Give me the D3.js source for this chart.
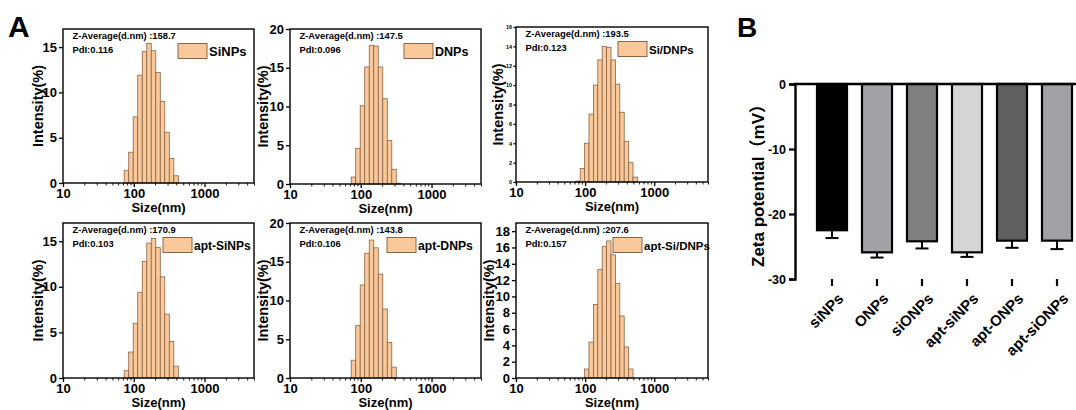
<!DOCTYPE html>
<html><head><meta charset="utf-8">
<script src="https://cdn.jsdelivr.net/npm/d3@7"></script>
<style>
body{margin:0;background:#fff;}
svg{display:block;font-family:"Liberation Sans",Arial,sans-serif;}
</style></head><body>
<svg id="c" width="1076" height="410"></svg>
<script>
// ---------- DATA ----------
// DLS size classes (nm)
const sizeBins = [78.82, 91.28, 105.7, 122.4, 141.8, 164.2, 190.1, 220.2, 255.0, 295.3, 342.0, 396.1, 458.7, 531.2];
const sampleNames = ["SiNPs", "DNPs", "Si/DNPs", "apt-SiNPs", "apt-DNPs", "apt-Si/DNPs"];
const zAverage = ["158.7", "147.5", "193.5", "170.9", "143.8", "207.6"];
const pdiValues = ["0.116", "0.096", "0.123", "0.103", "0.106", "0.157"];
const intensitySiNPs     = [1.4, 3.4, 7.3, 11.9, 14.5, 15.4, 14.6, 12.2, 9.0, 5.6, 2.7, 0.8, 0, 0];
const intensityDNPs      = [0.9, 4.6, 10.1, 15.1, 17.9, 17.8, 15.1, 11.0, 5.6, 1.9, 0.1, 0, 0, 0];
const intensitySiDNPs    = [0.1, 1.4, 4.0, 7.0, 10.0, 12.6, 14.0, 13.9, 12.6, 10.1, 7.2, 4.2, 2.0, 0.5];
const intensityAptSiNPs  = [0.8, 2.85, 6.0, 9.4, 12.8, 14.8, 15.3, 14.3, 11.1, 7.0, 4.0, 1.3, 0, 0];
const intensityAptDNPs   = [2.3, 6.8, 12.0, 16.1, 17.8, 16.8, 13.4, 8.9, 4.6, 1.4, 0, 0, 0, 0];
const intensityAptSiDNPs = [0, 0, 1.1, 4.4, 9.0, 13.3, 16.1, 16.8, 15.1, 11.6, 7.6, 3.8, 1.1, 0];
const intensitySeries = [intensitySiNPs, intensityDNPs, intensitySiDNPs, intensityAptSiNPs, intensityAptDNPs, intensityAptSiDNPs];
const xTickValues = [10, 100, 1000];
const yMaxValues = [17, 20, 16, 17, 20, 19];
const yTickValues = [[0, 5, 10, 15], [0, 5, 10, 15, 20], [0, 2, 4, 6, 8, 10, 12, 14, 16],
                     [0, 5, 10, 15], [0, 5, 10, 15, 20], [0, 2, 4, 6, 8, 10, 12, 14, 16, 18]];
const xMaxValues = [5000, 5000, 6000, 5000, 5000, 6000];

const zetaGroups = ["siNPs", "ONPs", "siONPs", "apt-siNPs", "apt-ONPs", "apt-siONPs"];
const zetaMean = [-22.5, -25.9, -24.2, -25.9, -24.1, -24.1];
const zetaSD = [1.2, 0.8, 1.1, 0.7, 1.1, 1.3];
const zetaTicks = [0, -10, -20, -30];

// ---------- LAYOUT / STYLE ----------
const layout = [
  {x0: 63,  x1: 254, y0: 29,  y1: 183, tickFont: 13, legDx: 76, legFont: 13,   ylabX: 37.5},
  {x0: 290, x1: 481, y0: 29,  y1: 184, tickFont: 13, legDx: 77, legFont: 12.5, ylabX: 262.5},
  {x0: 516, x1: 708, y0: 27,  y1: 182, tickFont: 5.5, legDx: 90, legFont: 11.5, ylabX: 497.5},
  {x0: 63,  x1: 254, y0: 223, y1: 378, tickFont: 13, legDx: 91, legFont: 12,   ylabX: 37.5},
  {x0: 290, x1: 481, y0: 223, y1: 378, tickFont: 13, legDx: 94, legFont: 12.2, ylabX: 262.5},
  {x0: 516, x1: 708, y0: 223, y1: 378, tickFont: 13, legDx: 95, legFont: 11.5, ylabX: 489}
];
const barFill = "#f9c99c", barStroke = "#8a6444";
const zetaColors = ["#000000", "#a1a1a5", "#808080", "#d5d5d5", "#606060", "#a1a1a5"];

const svg = d3.select("#c");

svg.append("text").attr("x", 8).attr("y", 37).attr("font-size", 30).attr("font-weight", "bold").text("A");
svg.append("text").attr("x", 737).attr("y", 37).attr("font-size", 28).attr("font-weight", "bold").text("B");

const ratio = Math.sqrt(sizeBins[1] / sizeBins[0]);

layout.forEach((L, i) => {
  const g = svg.append("g");
  const x = d3.scaleLog().domain([10, xMaxValues[i]]).range([L.x0, L.x1]);
  const y = d3.scaleLinear().domain([0, yMaxValues[i]]).range([L.y1, L.y0]);
  const data = sizeBins.map((s, k) => ({s, v: intensitySeries[i][k]})).filter(d => d.v > 0);

  g.selectAll("rect.bar").data(data).join("rect").attr("class", "bar")
    .attr("x", d => x(d.s / ratio))
    .attr("width", d => x(d.s * ratio) - x(d.s / ratio))
    .attr("y", d => y(d.v))
    .attr("height", d => y(0) - y(d.v))
    .attr("fill", barFill).attr("stroke", barStroke).attr("stroke-width", 0.8);

  // minor x ticks
  const minor = [];
  for (let dec = 10; dec < xMaxValues[i]; dec *= 10)
    for (let m = 2; m <= 9; m++) if (dec * m <= xMaxValues[i]) minor.push(dec * m);
  g.append("g").attr("transform", `translate(0,${L.y1})`)
    .call(d3.axisBottom(x).tickValues(minor).tickSize(2.5).tickFormat(""))
    .call(a => a.select(".domain").remove())
    .selectAll("line").attr("stroke-width", 0.9);

  const xa = g.append("g").attr("transform", `translate(0,${L.y1})`)
    .call(d3.axisBottom(x).tickValues(xTickValues).tickSize(4).tickPadding(2).tickFormat(d3.format("d")));
  xa.select(".domain").remove();
  xa.selectAll("line").attr("stroke-width", 1.3);
  xa.selectAll("text").attr("font-size", 13).attr("font-weight", "bold").attr("fill", "#000")
    .attr("font-family", "Liberation Sans, Arial, sans-serif");

  const ya = g.append("g").attr("transform", `translate(${L.x0},0)`)
    .call(d3.axisLeft(y).tickValues(yTickValues[i]).tickSize(i === 2 ? 2.5 : 4).tickPadding(i === 2 ? 1.5 : 2));
  ya.select(".domain").remove();
  ya.selectAll("line").attr("stroke-width", 1.3);
  ya.selectAll("text").attr("font-size", L.tickFont).attr("font-weight", "bold").attr("fill", "#000")
    .attr("font-family", "Liberation Sans, Arial, sans-serif");

  g.append("rect").attr("x", L.x0).attr("y", L.y0).attr("width", L.x1 - L.x0).attr("height", L.y1 - L.y0)
    .attr("fill", "none").attr("stroke", "#000").attr("stroke-width", 1.4);

  // annotations
  g.append("text").attr("x", L.x0 + 9.5).attr("y", L.y0 + 10).attr("font-size", 9.4).attr("font-weight", "bold")
    .text(`Z-Average(d.nm) :${zAverage[i]}`);
  g.append("text").attr("x", L.x0 + 9.5).attr("y", L.y0 + 23.5).attr("font-size", 9.4).attr("font-weight", "bold")
    .text(`PdI:${pdiValues[i]}`);

  // legend
  const lx = L.x1 - L.legDx, ly = L.y0 + 14.5;
  g.append("rect").attr("x", lx).attr("y", ly).attr("width", 29).attr("height", 15)
    .attr("fill", barFill).attr("stroke", barStroke).attr("stroke-width", 1);
  g.append("text").attr("x", lx + 31).attr("y", ly + 12).attr("font-size", L.legFont).attr("font-weight", "bold")
    .text(sampleNames[i]);

  // axis titles
  g.append("text").attr("x", (L.x0 + L.x1) / 2).attr("y", L.y1 + 29).attr("text-anchor", "middle")
    .attr("font-size", 13).attr("font-weight", "bold").text("Size(nm)");
  g.append("text").attr("transform", `translate(${L.ylabX + 5},${(L.y0 + L.y1) / 2}) rotate(-90)`)
    .attr("text-anchor", "middle").attr("font-size", 14.5).attr("font-weight", "bold").text("Intensity(%)");
});

// ---------- Panel B ----------
const gb = svg.append("g");
const yB = d3.scaleLinear().domain([-30, 0]).range([279, 84]);
const xB = d3.scaleBand().domain(zetaGroups).range([802, 1087]).paddingInner(1 / 3).paddingOuter(1 / 3);
const zdata = zetaGroups.map((g, k) => ({g, m: zetaMean[k], sd: zetaSD[k], c: zetaColors[k]}));

// error bars (behind bars)
zdata.forEach(d => {
  const cx = xB(d.g) + xB.bandwidth() / 2;
  gb.append("line").attr("x1", cx).attr("x2", cx).attr("y1", yB(d.m)).attr("y2", yB(d.m - d.sd))
    .attr("stroke", "#000").attr("stroke-width", 2);
  gb.append("line").attr("x1", cx - 6.5).attr("x2", cx + 6.5).attr("y1", yB(d.m - d.sd)).attr("y2", yB(d.m - d.sd))
    .attr("stroke", "#000").attr("stroke-width", 2);
});
gb.selectAll("rect.zb").data(zdata).join("rect").attr("class", "zb")
  .attr("x", d => xB(d.g)).attr("width", xB.bandwidth())
  .attr("y", yB(0)).attr("height", d => yB(d.m) - yB(0))
  .attr("fill", d => d.c).attr("stroke", "#000").attr("stroke-width", 2.2);

const yaB = gb.append("g").attr("transform", "translate(795,0)")
  .call(d3.axisLeft(yB).tickValues(zetaTicks).tickSize(6).tickPadding(3).tickFormat(d3.format("d")));
yaB.select(".domain").attr("stroke-width", 2.4);
yaB.selectAll("line").attr("stroke-width", 2.2);
yaB.selectAll("text").attr("font-size", 12.5).attr("font-weight", "bold").attr("fill", "#000")
  .attr("font-family", "Liberation Sans, Arial, sans-serif").text(d => d === 0 ? "0" : "-" + Math.abs(d));

gb.append("line").attr("x1", 794).attr("x2", 1076).attr("y1", yB(0)).attr("y2", yB(0))
  .attr("stroke", "#000").attr("stroke-width", 2.4);

const xaB = gb.append("g").attr("transform", `translate(0,${yB(-30)})`)
  .call(d3.axisBottom(xB).tickSize(7).tickPadding(4));
xaB.select(".domain").remove();
xaB.selectAll("line").attr("stroke-width", 2.2);
xaB.selectAll("text").attr("font-size", 15).attr("font-weight", "bold").attr("fill", "#000")
  .attr("font-family", "Liberation Sans, Arial, sans-serif")
  .attr("text-anchor", "end").attr("dy", "0.35em")
  .attr("transform", "translate(1,9) rotate(-45)");

gb.append("text").attr("transform", `translate(764,${(yB(0) + yB(-30)) / 2}) rotate(-90)`)
  .attr("text-anchor", "middle").attr("font-size", 17).attr("font-weight", "bold")
  .text("Zeta potential（mV）")
  .style("font-family", "'Liberation Sans', 'Noto Sans CJK SC', sans-serif");
</script>
</body></html>
